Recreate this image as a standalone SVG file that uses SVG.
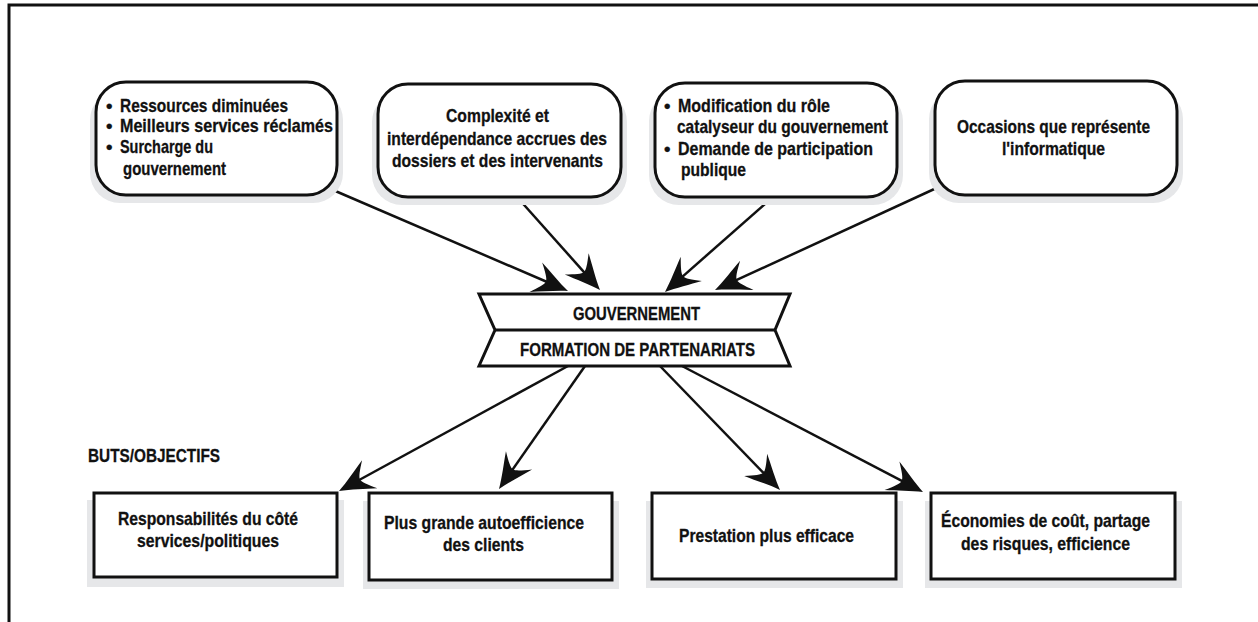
<svg xmlns="http://www.w3.org/2000/svg" width="1258" height="622" viewBox="0 0 1258 622">
<style>
.t{font-family:"Liberation Sans",Arial,sans-serif;font-weight:bold;font-size:18.5px;fill:#111;stroke:#111;stroke-width:0.3}
.box{fill:#fff;stroke:#111;stroke-width:3}
.sh{fill:#e6e7e9;stroke:none}
.ln{fill:none;stroke:#111;stroke-width:2.5}
</style>
<defs>
<marker id="ah" markerUnits="userSpaceOnUse" markerWidth="60" markerHeight="60" viewBox="-30 -30 60 60" refX="0" refY="0" orient="auto" overflow="visible">
<path d="M12,0 C1,-4 -12,-11 -23,-16 C-16,-8 -12,-3 -12,0 C-12,3 -16,8 -23,16 C-12,11 1,4 12,0 Z" fill="#111"/>
</marker>
</defs>
<rect width="1258" height="622" fill="#fff"/>
<path d="M9,622 V5 H1258" fill="none" stroke="#111" stroke-width="3"/>

<g id="connectors">
<line class="ln" x1="333" y1="190" x2="556.98" y2="286.26" marker-end="url(#ah)"/>
<line class="ln" x1="517" y1="197" x2="592.01" y2="281.05" marker-end="url(#ah)"/>
<line class="ln" x1="773" y1="197" x2="674.01" y2="284.07" marker-end="url(#ah)"/>
<line class="ln" x1="943" y1="185" x2="725.9" y2="284.98" marker-end="url(#ah)"/>
<line class="ln" x1="568" y1="366" x2="349.53" y2="485.25" marker-end="url(#ah)"/>
<line class="ln" x1="585" y1="366" x2="505.88" y2="479.17" marker-end="url(#ah)"/>
<line class="ln" x1="660" y1="366" x2="771.66" y2="481.38" marker-end="url(#ah)"/>
<line class="ln" x1="682" y1="366" x2="912.37" y2="486.44" marker-end="url(#ah)"/>
</g>

<g id="node-ressources">
<rect class="sh" x="90" y="90" width="253" height="113" rx="30"/>
<rect class="box" x="96" y="82" width="241" height="113" rx="30"/>
<text class="t" x="106" y="112">•</text>
<text class="t" x="120" y="112" textLength="168" lengthAdjust="spacingAndGlyphs">Ressources diminuées</text>
<text class="t" x="106" y="132">•</text>
<text class="t" x="120" y="132" textLength="213" lengthAdjust="spacingAndGlyphs">Meilleurs services réclamés</text>
<text class="t" x="106" y="153">•</text>
<text class="t" x="120" y="153" textLength="93" lengthAdjust="spacingAndGlyphs">Surcharge du</text>
<text class="t" x="123" y="175" textLength="103" lengthAdjust="spacingAndGlyphs">gouvernement</text>
</g>

<g id="node-complexite">
<rect class="sh" x="372" y="92" width="255" height="113" rx="30"/>
<rect class="box" x="378" y="84" width="243" height="113" rx="30"/>
<text class="t" x="446" y="122" textLength="103" lengthAdjust="spacingAndGlyphs">Complexité et</text>
<text class="t" x="387" y="145" textLength="220" lengthAdjust="spacingAndGlyphs">interdépendance accrues des</text>
<text class="t" x="392" y="167" textLength="211" lengthAdjust="spacingAndGlyphs">dossiers et des intervenants</text>
</g>

<g id="node-role">
<rect class="sh" x="649" y="91" width="254" height="114" rx="30"/>
<rect class="box" x="655" y="83" width="242" height="114" rx="30"/>
<text class="t" x="664" y="112">•</text>
<text class="t" x="678" y="112" textLength="152" lengthAdjust="spacingAndGlyphs">Modification du rôle</text>
<text class="t" x="677" y="133" textLength="211" lengthAdjust="spacingAndGlyphs">catalyseur du gouvernement</text>
<text class="t" x="664" y="155">•</text>
<text class="t" x="678" y="155" textLength="195" lengthAdjust="spacingAndGlyphs">Demande de participation</text>
<text class="t" x="681" y="176" textLength="65" lengthAdjust="spacingAndGlyphs">publique</text>
</g>

<g id="node-informatique">
<rect class="sh" x="929" y="89" width="254" height="114" rx="30"/>
<rect class="box" x="935" y="81" width="242" height="114" rx="30"/>
<text class="t" x="957" y="133" textLength="193" lengthAdjust="spacingAndGlyphs">Occasions que représente</text>
<text class="t" x="1002" y="155" textLength="103" lengthAdjust="spacingAndGlyphs">l'informatique</text>
</g>

<g id="node-gouvernement">
<polygon class="box" points="479,294 790,294 775,330 790,366 479,366 495,330"/>
<line x1="495" y1="330" x2="775" y2="330" stroke="#111" stroke-width="3"/>
<text class="t" x="573" y="320" textLength="127" lengthAdjust="spacingAndGlyphs">GOUVERNEMENT</text>
<text class="t" x="520" y="356" textLength="235" lengthAdjust="spacingAndGlyphs">FORMATION DE PARTENARIATS</text>
</g>

<g id="label-buts">
<text class="t" x="88" y="462" textLength="132" lengthAdjust="spacingAndGlyphs">BUTS/OBJECTIFS</text>
</g>

<g id="node-responsabilites">
<rect class="sh" x="87" y="500" width="257" height="87"/>
<rect class="box" x="94" y="493" width="243" height="84"/>
<text class="t" x="118" y="525" textLength="180" lengthAdjust="spacingAndGlyphs">Responsabilités du côté</text>
<text class="t" x="137" y="547" textLength="142" lengthAdjust="spacingAndGlyphs">services/politiques</text>
</g>

<g id="node-autoefficience">
<rect class="sh" x="363" y="501" width="256" height="88"/>
<rect class="box" x="369" y="493" width="243" height="87"/>
<text class="t" x="384" y="529" textLength="200" lengthAdjust="spacingAndGlyphs">Plus grande autoefficience</text>
<text class="t" x="443" y="551" textLength="81" lengthAdjust="spacingAndGlyphs">des clients</text>
</g>

<g id="node-prestation">
<rect class="sh" x="646" y="501" width="257" height="87"/>
<rect class="box" x="652" y="493" width="244" height="86"/>
<text class="t" x="679" y="542" textLength="175" lengthAdjust="spacingAndGlyphs">Prestation plus efficace</text>
</g>

<g id="node-economies">
<rect class="sh" x="925" y="501" width="257" height="87"/>
<rect class="box" x="931" y="493" width="244" height="86"/>
<text class="t" x="941" y="527" textLength="209" lengthAdjust="spacingAndGlyphs">Économies de coût, partage</text>
<text class="t" x="961" y="550" textLength="169" lengthAdjust="spacingAndGlyphs">des risques, efficience</text>
</g>
</svg>
